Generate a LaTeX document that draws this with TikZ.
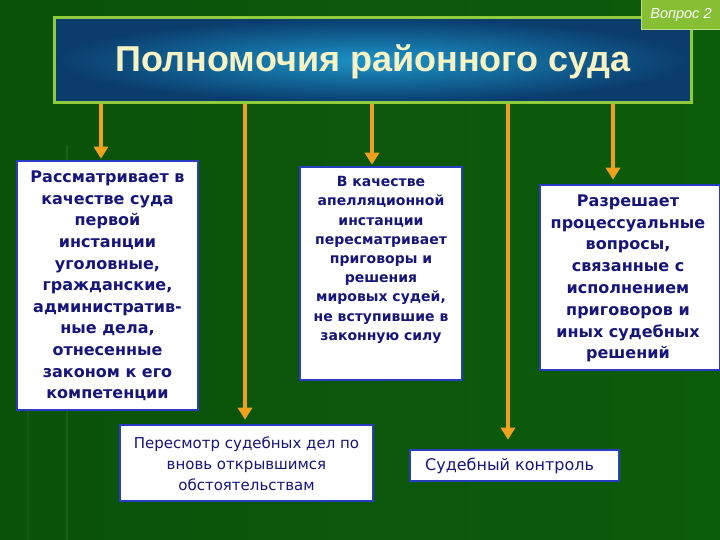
\documentclass[tikz,border=0pt]{standalone}
\usepackage{fontspec}
\setmainfont{DejaVu Sans}
\newfontfamily\titlefont{Liberation Sans}
\usetikzlibrary{arrows.meta,calc}
\definecolor{bgA}{HTML}{0B520B}
\definecolor{bgB}{HTML}{0B5C0B}
\definecolor{frameg}{HTML}{8FCB3A}
\definecolor{blueIn}{HTML}{1C93C8}
\definecolor{blueOut}{HTML}{0A3C6C}
\definecolor{arrowc}{HTML}{EFA11E}
\definecolor{boxline}{HTML}{2A3CC0}
\definecolor{navy}{HTML}{15157A}
\definecolor{titletext}{HTML}{F6F2C4}
\definecolor{tagfill}{HTML}{86BF34}
\tikzset{
  box/.style={draw=boxline, line width=2.6pt, fill=white, inner sep=0pt},
  btext/.style={text=navy, align=center, inner sep=0pt, font=\bfseries},
  rtext/.style={text=navy, align=center, inner sep=0pt},
  arr/.style={draw=arrowc, line width=4pt, -{Triangle[width=14pt,length=12pt]}},
}
\begin{document}
\begin{tikzpicture}[x=1pt,y=-1pt]
\useasboundingbox (0,0) rectangle (720,540);
\shade[left color=bgA, right color=bgB] (0,0) rectangle (720,540);
\draw[white, opacity=0.07, line width=1.5pt] (67,145) -- (67,540);
\draw[white, opacity=0.05, line width=1.5pt] (28,400) -- (28,540);
% title
\shade[inner color=blueIn, outer color=blueOut] (54,18) rectangle (691,103);
\node[draw=frameg, line width=3pt, minimum width=637pt, minimum height=85pt, inner sep=0pt] (title) at (372.5,60.5) {};
\node[text=titletext, font=\titlefont\bfseries\fontsize{36}{40}\selectfont] (ttl) at (373,62) {Полномочия районного суда};
% tag
\node[fill=tagfill, draw=frameg!60!white, line width=1pt, minimum width=79pt, minimum height=30pt, inner sep=0pt, text=white, font=\titlefont\itshape\fontsize{14.5}{16}\selectfont] (tag) at (681,14.5) {Вопрос 2};
% boxes
\node[box, minimum width=181pt, minimum height=249pt] (b1) at (107.5,285.5) {};
\node[btext, font=\bfseries\fontsize{16}{21.6}\selectfont] (t1) at (107.5,286) {Рассматривает в\\качестве суда\\первой\\инстанции\\уголовные,\\гражданские,\\административ-\\ные дела,\\отнесенные\\законом к его\\компетенции};
\node[box, minimum width=162pt, minimum height=213pt] (b2) at (381,273.5) {};
\node[btext, font=\bfseries\fontsize{14}{19.2}\selectfont] (t2) at (381,260) {В качестве\\апелляционной\\инстанции\\пересматривает\\приговоры и\\решения\\мировых судей,\\не вступившие в\\законную силу};
\node[box, minimum width=180pt, minimum height=185pt] (b3) at (630,277.5) {};
\node[btext, font=\bfseries\fontsize{16}{21.8}\selectfont] (t3) at (628,278.5) {Разрешает\\процессуальные\\вопросы,\\связанные с\\исполнением\\приговоров и\\иных судебных\\решений};
\node[box, minimum width=253pt, minimum height=76pt] (b4) at (246.5,463) {};
\node[rtext, font=\fontsize{15}{21}\selectfont] (t4) at (246.5,464) {Пересмотр судебных дел по\\вновь открывшимся\\обстоятельствам};
\node[box, minimum width=209pt, minimum height=31pt] (b5) at (514.5,465.5) {};
\node[rtext, anchor=west, font=\fontsize{16}{20}\selectfont] (t5) at (425,466) {Судебный контроль};
% arrows
\coordinate (a1) at ($(b1.north)+(-6.5,-1)$);
\coordinate (a2) at ($(b4.north)+(-1.5,-4)$);
\coordinate (a3) at ($(b2.north)+(-9,-1)$);
\coordinate (a4) at ($(b5.north)+(-6.5,-9)$);
\coordinate (a5) at ($(b3.north)+(-17,-4)$);
\draw[arr] (title.south -| a1) -- (a1);
\draw[arr] (title.south -| a2) -- (a2);
\draw[arr] (title.south -| a3) -- (a3);
\draw[arr] (title.south -| a4) -- (a4);
\draw[arr] (title.south -| a5) -- (a5);
\end{tikzpicture}
\end{document}
